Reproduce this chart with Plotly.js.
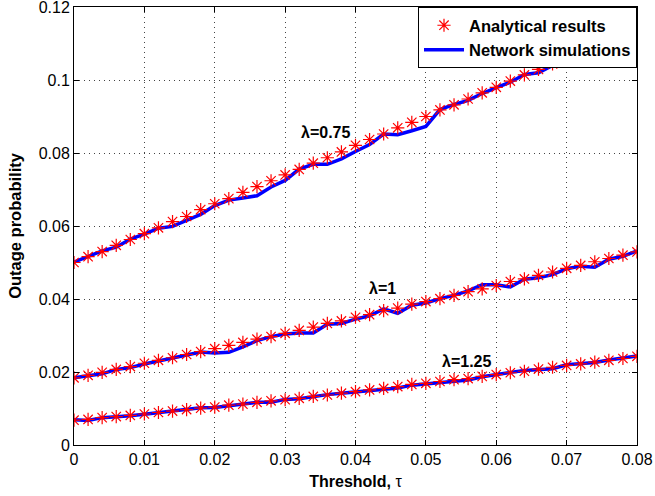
<!DOCTYPE html>
<html>
<head>
<meta charset="utf-8">
<script src="https://cdn.plot.ly/plotly-3.0.1.min.js"></script>
<style>
html,body{margin:0;padding:0;background:#fff;}
#chart{width:655px;height:496px;}
</style>
</head>
<body>
<div id="chart"></div>
<script>
const tau = [0,0.002,0.004,0.006,0.008,0.010,0.012,0.014,0.016,0.018,0.020,0.022,0.024,0.026,0.028,0.030,0.032,0.034,0.036,0.038,0.040,0.042,0.044,0.046,0.048,0.050,0.052,0.054,0.056,0.058,0.060,0.062,0.064,0.066,0.068,0.070,0.072,0.074,0.076,0.078,0.080];

const ana075 = [0.0500,0.0516,0.0530,0.0547,0.0563,0.0579,0.0595,0.0612,0.0626,0.0645,0.0661,0.0675,0.0692,0.0708,0.0724,0.0740,0.0755,0.0772,0.0787,0.0803,0.0821,0.0837,0.0852,0.0869,0.0884,0.0900,0.0918,0.0932,0.0948,0.0965,0.0980,0.0997,0.1014,0.1029,0.1044,0.1060,0.1075,0.1091,0.1107,0.1122,0.1140];
const sim075 = [0.0501,0.0516,0.0532,0.0542,0.0564,0.0578,0.0594,0.0599,0.0616,0.0632,0.0656,0.0671,0.0677,0.0683,0.0707,0.0725,0.0756,0.0769,0.0769,0.0784,0.0804,0.0823,0.0852,0.0850,0.0861,0.0873,0.0919,0.0933,0.0944,0.0963,0.0979,0.0994,0.1015,0.1020,0.1040,0.1058,0.1070,0.1088,0.1105,0.1120,0.1138];

const ana100 = [0.0184,0.0191,0.0199,0.0207,0.0215,0.0224,0.0232,0.0239,0.0248,0.0256,0.0264,0.0273,0.0281,0.0290,0.0297,0.0306,0.0314,0.0323,0.0333,0.0340,0.0350,0.0357,0.0368,0.0375,0.0386,0.0393,0.0401,0.0410,0.0420,0.0428,0.0437,0.0448,0.0455,0.0465,0.0474,0.0484,0.0492,0.0502,0.0511,0.0520,0.0529];
const sim100 = [0.0184,0.0190,0.0195,0.0207,0.0212,0.0222,0.0230,0.0237,0.0246,0.0255,0.0252,0.0254,0.0269,0.0286,0.0297,0.0304,0.0307,0.0307,0.0331,0.0333,0.0345,0.0354,0.0373,0.0361,0.0383,0.0389,0.0401,0.0410,0.0422,0.0439,0.0439,0.0433,0.0454,0.0458,0.0467,0.0483,0.0490,0.0487,0.0509,0.0517,0.0532];

const ana125 = [0.0068,0.0070,0.0075,0.0078,0.0081,0.0085,0.0089,0.0093,0.0097,0.0101,0.0104,0.0109,0.0112,0.0117,0.0121,0.0124,0.0128,0.0133,0.0137,0.0142,0.0146,0.0151,0.0155,0.0160,0.0166,0.0169,0.0174,0.0179,0.0182,0.0188,0.0193,0.0198,0.0202,0.0208,0.0213,0.0218,0.0222,0.0227,0.0232,0.0237,0.0243];
const sim125 = [0.0069,0.0067,0.0075,0.0077,0.0080,0.0084,0.0089,0.0094,0.0098,0.0102,0.0103,0.0107,0.0112,0.0117,0.0117,0.0125,0.0127,0.0133,0.0138,0.0142,0.0146,0.0149,0.0154,0.0156,0.0164,0.0167,0.0171,0.0175,0.0178,0.0187,0.0194,0.0199,0.0204,0.0206,0.0209,0.0220,0.0224,0.0226,0.0233,0.0238,0.0244];

const labels = ['λ=0.75','λ=1','λ=1.25'];
const labelX = [0.0358,0.0439,0.0558];
const labelY = [0.0855,0.0428,0.0228];

const xTicks = [0,0.01,0.02,0.03,0.04,0.05,0.06,0.07,0.08];
const yTicks = [0,0.02,0.04,0.06,0.08,0.1,0.12];

const simSets = [sim075, sim100, sim125];
const anaSets = [ana075, ana100, ana125];

const traces = [];
simSets.forEach((s, i) => {
  traces.push({
    x: tau, y: s, type: 'scatter', mode: 'lines',
    name: 'Network simulations', legendgroup: 'sim', showlegend: i === 0, legendrank: 2,
    line: {color: '#0000ff', width: 3.5}
  });
});
anaSets.forEach((a, i) => {
  traces.push({
    x: tau, y: a, type: 'scatter', mode: 'markers',
    name: 'Analytical results', legendgroup: 'ana', showlegend: i === 0, legendrank: 1,
    marker: {symbol: 'asterisk-open', size: 11, color: '#ff0000', line: {color: '#ff0000', width: 1.2}}
  });
});

const fontFam = '"Liberation Sans", Arial, Helvetica, sans-serif';
const axisCommon = {
  showline: true, linecolor: '#000', linewidth: 1, mirror: 'ticks',
  ticks: 'inside', ticklen: 5, tickcolor: '#000',
  showgrid: true, gridcolor: '#444', gridwidth: 1, griddash: '1px,4px',
  zeroline: false, tickfont: {family: fontFam, size: 16, color: '#000'},
  ticklabeloverflow: 'allow'
};

const layout = {
  width: 655, height: 496,
  margin: {l: 74, r: 18, t: 7, b: 51},
  paper_bgcolor: '#fff', plot_bgcolor: '#fff',
  font: {family: fontFam, color: '#000'},
  xaxis: Object.assign({}, axisCommon, {
    range: [0, 0.08], tickvals: xTicks, ticktext: xTicks.map(String),
    title: {text: '<b>Threshold,</b> τ', font: {family: fontFam, size: 16, color: '#000'}, standoff: 8}
  }),
  yaxis: Object.assign({}, axisCommon, {
    range: [0, 0.120001], tickvals: yTicks, ticktext: yTicks.map(String),
    title: {text: '<b>Outage probability</b>', font: {family: fontFam, size: 16.5, color: '#000'}, standoff: 12}
  }),
  legend: {
    x: 1, y: 1, xanchor: 'right', yanchor: 'top',
    bgcolor: '#fff', bordercolor: '#000', borderwidth: 1,
    font: {family: fontFam, size: 16.5, color: '#000', weight: 'bold'},
    tracegroupgap: 0, itemwidth: 40
  },
  annotations: labels.map((t, i) => ({
    x: labelX[i], y: labelY[i], xref: 'x', yref: 'y', text: '<b>' + t + '</b>',
    showarrow: false, font: {family: fontFam, size: 16, color: '#000'}
  })),
  showlegend: true
};

Plotly.newPlot('chart', traces, layout, {displayModeBar: false, staticPlot: true});
</script>
</body>
</html>
